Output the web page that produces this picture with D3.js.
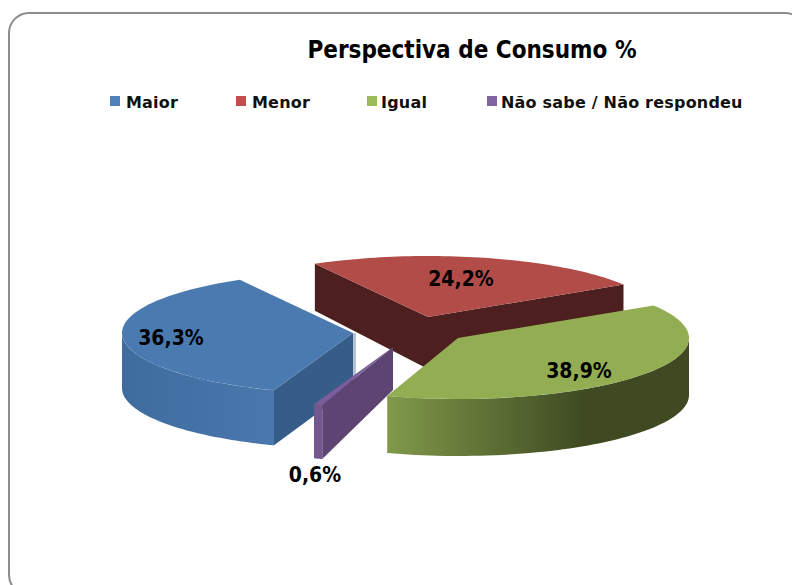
<!DOCTYPE html>
<html><head><meta charset="utf-8">
<script src="https://cdn.jsdelivr.net/npm/d3@7"></script>
<style>html,body{margin:0;background:#fff}svg{display:block}</style></head>
<body><svg id="c" width="792" height="585"></svg>
<script>
const titleText = "Perspectiva de Consumo %";
const categories = ["Maior","Menor","Igual","Não sabe / Não respondeu"];
const values = [36.3,24.2,38.9,0.6];
const valueLabels = ["36,3%","24,2%","38,9%","0,6%"];
const topColors = ["#4a7ab0","#b14c49","#92ad52","#7a5d9a"];
const legendColors = ["#4f81bd","#c0504d","#9bbb59","#8064a2"];
const sideColors = ["#365c88","#4d1f1f","#80994a","#5e4473"];
const wallFrom = ["#3f6c9f","#4d1f1f","#80994a","#73588f"];
const wallTo = ["#4a78ad","#4d1f1f","#3f4a22","#73588f"];

// layout: slice centres (explosion), projected wall heights, legend/label anchors
const centerX = [353,428,458,393], centerY = [333,317,338,347];
const wallInner = [54,52,57,43], wallOuter = [55,47,57,54];
const legendX = [110,236,367,487], legendTextX = [126,252,381,501];
const labelX = [171,461,579,315], labelY = [345,286,378,482];
const rx = 231, ry = 61;

const svg = d3.select("#c");
const defs = svg.append("defs");

svg.append("rect").attr("x",9).attr("y",13).attr("width",796).attr("height",582)
  .attr("rx",20).attr("fill","#fff").attr("stroke","#8c8c8c").attr("stroke-width",2);

svg.append("text").attr("x",472).attr("y",58).attr("text-anchor","middle")
  .attr("font-family","'DejaVu Sans Condensed','DejaVu Sans'").attr("font-weight",700)
  .attr("font-size",24).attr("fill","#000").text(titleText);

const legend = svg.selectAll("g.leg").data(categories).join("g").attr("class","leg");
legend.append("rect").attr("x",(d,i)=>legendX[i]).attr("y",96).attr("width",10).attr("height",10)
  .attr("fill",(d,i)=>legendColors[i]);
legend.append("text").attr("x",(d,i)=>legendTextX[i]).attr("y",108)
  .attr("font-family","'DejaVu Sans'").attr("font-weight",700).attr("font-size",16).attr("fill","#111")
  .attr("letter-spacing",0.2).text(d=>d);

const TAU = 2*Math.PI;
const arcs = d3.pie().sort(null).startAngle(200*Math.PI/180).endAngle(200*Math.PI/180+TAU)(values)
  .map(d=>d.startAngle>=TAU ? {...d,startAngle:d.startAngle-TAU,endAngle:d.endAngle-TAU} : d);

const px = (i,a)=>centerX[i]+rx*Math.sin(a);
const py = (i,a)=>centerY[i]-ry*Math.cos(a);
const line = d3.line().x(d=>d[0]).y(d=>d[1]);
const samples = (s,e)=>d3.range(0,61).map(t=>s+(e-s)*t/60);

function radial(i,a){
  const x=px(i,a), y=py(i,a);
  return [[centerX[i],centerY[i]],[x,y],[x,y+wallOuter[i]],[centerX[i],centerY[i]+wallInner[i]]];
}
function wall(i,s,e){
  const pts=samples(s,e);
  const top=pts.map(a=>[px(i,a),py(i,a)]);
  const bot=pts.map(a=>[px(i,a),py(i,a)+wallOuter[i]]).reverse();
  return top.concat(bot);
}
function topFace(i,s,e){
  return [[centerX[i],centerY[i]]].concat(samples(s,e).map(a=>[px(i,a),py(i,a)]));
}

const order = [1,0,2,3];
const P = Math.PI;
order.forEach(i=>{
  const d = arcs[i], s=d.startAngle, e=d.endAngle;
  const g = svg.append("g");
  // light edge of the first slice, seen behind the thin slice
  if (i===0) g.append("rect").attr("x",centerX[i]).attr("y",centerY[i]).attr("width",3)
    .attr("height",wallInner[i]).attr("fill","#b4c3d6");
  // radial walls that face the viewer
  if (Math.sin(s)<0) g.append("path").attr("d",line(radial(i,s))+"Z").attr("fill",sideColors[i]);
  if (Math.sin(e)>0) g.append("path").attr("d",line(radial(i,e))+"Z").attr("fill",sideColors[i]);
  // outer wall: visible for the front half only
  const ws = Math.max(s, P/2), we = Math.min(e, 3*P/2);
  if (we>ws){
    const gid="w"+i;
    const grad=defs.append("linearGradient").attr("id",gid).attr("gradientUnits","userSpaceOnUse")
      .attr("x1",px(i,we)).attr("x2",px(i,ws)).attr("y1",0).attr("y2",0);
    grad.append("stop").attr("offset",0).attr("stop-color",wallFrom[i]);
    grad.append("stop").attr("offset",i===2?0.65:1).attr("stop-color",wallTo[i]);
    g.append("path").attr("d",line(wall(i,ws,we))+"Z").attr("fill",`url(#${gid})`);
  }
  g.append("path").attr("d",line(topFace(i,s,e))+"Z").attr("fill",topColors[i]);
});

svg.selectAll("text.val").data(valueLabels).join("text").attr("class","val")
  .attr("x",(d,i)=>labelX[i]).attr("y",(d,i)=>labelY[i]).attr("text-anchor","middle")
  .attr("font-family","'DejaVu Sans Condensed','DejaVu Sans'").attr("font-weight",700)
  .attr("font-size",21).attr("fill","#000").text(d=>d);
</script></body></html>
